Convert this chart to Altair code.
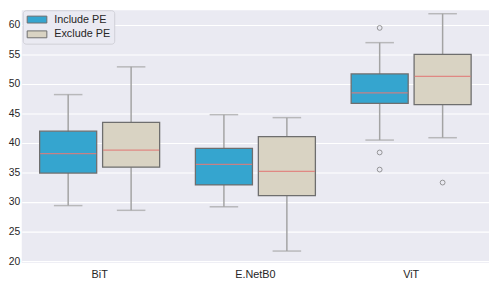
import altair as alt
import pandas as pd

models = ["BiT", "E.NetB0", "ViT"]
groups = ["Include PE", "Exclude PE"]

# box stats per (model, group), in order BiT-inc, BiT-exc, ENet-inc, ENet-exc, ViT-inc, ViT-exc
box_model = ["BiT", "BiT", "E.NetB0", "E.NetB0", "ViT", "ViT"]
box_group = ["Include PE", "Exclude PE"] * 3
whisk_lo = [29.4, 28.6, 29.2, 21.7, 40.5, 40.9]
q1 = [34.9, 35.9, 32.9, 31.1, 46.7, 46.5]
median = [38.2, 38.8, 36.4, 35.2, 48.5, 51.3]
q3 = [42.0, 43.5, 39.1, 41.1, 51.7, 55.0]
whisk_hi = [48.2, 52.9, 44.8, 44.3, 57.0, 61.9]

out_model = ["ViT", "ViT", "ViT", "ViT"]
out_group = ["Include PE", "Include PE", "Include PE", "Exclude PE"]
out_value = [59.5, 38.4, 35.5, 33.3]

y_ticks = [20, 25, 30, 35, 40, 45, 50, 55, 60]

box = pd.DataFrame({
    "model": box_model, "group": box_group,
    "lo": whisk_lo, "q1": q1, "med": median, "q3": q3, "hi": whisk_hi,
})
outl = pd.DataFrame({"model": out_model, "group": out_group, "value": out_value})

BLUE = "#35a5cf"
BEIGE = "#d9d3c3"
EDGE = "#6e6e6e"
WHISK = "#a3a3a3"
MED = "#e07a78"

x = alt.X("model:N", sort=models, title=None,
          scale=alt.Scale(paddingInner=0, paddingOuter=0),
          axis=alt.Axis(labelAngle=0, ticks=False, domain=False, labelPadding=6,
                        labelFontSize=11, labelColor="#262626", labelFont="Liberation Sans"))
xo = alt.XOffset("group:N", sort=groups,
                 scale=alt.Scale(domain=groups, paddingInner=0.094, paddingOuter=0.284))
yscale = alt.Scale(domain=[19.67, 62.49], nice=False, zero=False)
yaxis = alt.Axis(values=y_ticks, ticks=False, domain=False,
                 labelOverlap=False, labelFlush=False,
                 labelPadding=2, labelFontSize=10.5, labelColor="#262626",
                 labelFont="Liberation Sans", grid=True, gridColor="white",
                 gridWidth=1.2, gridOpacity=1, title=None)


def Y(field):
    return alt.Y(field, scale=yscale, axis=yaxis, title=None)


base = alt.Chart(box)

whisk = base.mark_rule(color=WHISK, strokeWidth=1.5).encode(
    x=x, xOffset=xo, y=Y("lo:Q"), y2="hi:Q")
cap_lo = base.mark_tick(color=WHISK, size=29, thickness=1.5).encode(
    x=x, xOffset=xo, y=Y("lo:Q"))
cap_hi = base.mark_tick(color=WHISK, size=29, thickness=1.5).encode(
    x=x, xOffset=xo, y=Y("hi:Q"))
boxes = base.mark_bar(stroke=EDGE, strokeWidth=1.3).encode(
    x=x, xOffset=xo, y=Y("q1:Q"), y2="q3:Q",
    color=alt.Color("group:N", sort=groups,
                    scale=alt.Scale(domain=groups, range=[BLUE, BEIGE]),
                    legend=alt.Legend(title=None, orient="none", legendX=1, legendY=0,
                                      fillColor="#eaeaf2", strokeColor="#cfcfd6",
                                      cornerRadius=3, padding=4, rowPadding=3,
                                      labelFontSize=11, labelColor="#262626",
                                      labelFont="Liberation Sans", labelOffset=12,
                                      symbolOffset=5,
                                      symbolType="M-2,-0.7H2V0.7H-2Z", symbolSize=100,
                                      symbolStrokeColor=EDGE, symbolStrokeWidth=1,
                                      symbolOpacity=1)))
meds = base.mark_tick(color=MED, size=57, thickness=1.3, opacity=0.85).encode(
    x=x, xOffset=xo, y=Y("med:Q"))
pts = alt.Chart(outl).mark_point(shape="circle", filled=False, color=EDGE, size=24,
                                 strokeWidth=1).encode(
    x=x, xOffset=xo, y=Y("value:Q"))

chart = alt.layer(whisk, cap_lo, cap_hi, boxes, meds, pts).properties(
    width=475, height=257,
    autosize=alt.AutoSizeParams(type="none"),
    padding={"left": 14, "top": 0, "right": 1, "bottom": 17},
).configure_view(fill="#eaeaf2", stroke=None)

chart.save("out.html", embed_options={"renderer": "svg", "actions": False})
